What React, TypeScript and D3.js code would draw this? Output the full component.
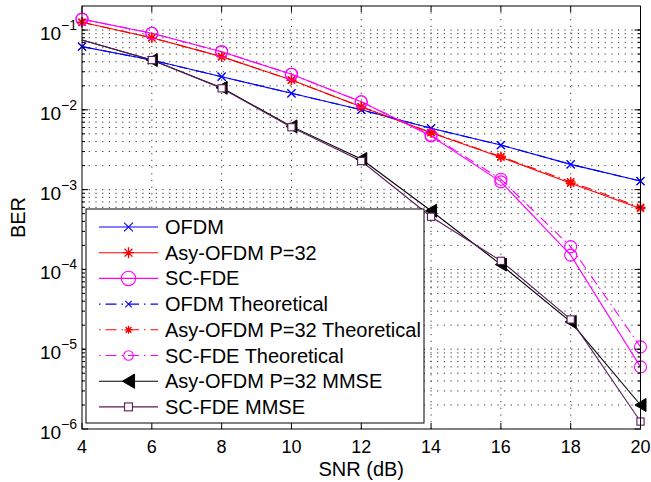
import * as d3 from 'd3';
import { useEffect, useRef } from 'react';

// SNR points (dB)
const snr = [4, 6, 8, 10, 12, 14, 16, 18, 20];

// BER
const ofdm = [0.062, 0.042, 0.026, 0.0161, 0.0100, 0.00586, 0.00362, 0.00207, 0.00128];
const asyOfdm = [0.125, 0.080, 0.0464, 0.0236, 0.0109, 0.00517, 0.00254, 0.0012, 0.00058];
const scFde = [0.137, 0.091, 0.0535, 0.0279, 0.0126, 0.0047, 0.00125, 0.000151, 0.000006];
const ofdmTheo = [0.062, 0.042, 0.026, 0.0161, 0.0100, 0.00586, 0.00362, 0.00207, 0.00128];
const asyOfdmTheo = [0.125, 0.080, 0.0464, 0.0236, 0.0109, 0.0052, 0.0026, 0.00125, 0.0006];
const scFdeTheo = [0.137, 0.091, 0.0535, 0.0279, 0.0126, 0.0048, 0.00135, 0.000193, 0.0000107];
const asyMmse = [0.075, 0.042, 0.0189, 0.0062, 0.00242, 0.000544, 0.000115, 0.000022, 0.000002];
const scFdeMmse = [0.075, 0.042, 0.0186, 0.00605, 0.00228, 0.000457, 0.000128, 0.0000236, 0.00000124];

const xTicks = [4, 6, 8, 10, 12, 14, 16, 18, 20];
const yTickExps = [-6, -5, -4, -3, -2, -1];

const FONT = "'Liberation Sans', Arial, Helvetica, sans-serif";

export default function App() {
  const svgRef = useRef(null);

  useEffect(() => {
    document.body.style.margin = '0';
    const svg = d3.select(svgRef.current);
    svg.selectAll('*').remove();

    const margin = { left: 82, right: 10.5, top: 6, bottom: 53 };
    const W = 651, H = 482;
    const x = d3.scaleLinear().domain([4, 20]).range([margin.left, W - margin.right]);
    const y = d3.scaleLog().domain([1e-6, 0.2]).range([H - margin.bottom, margin.top]);
    const [x0, x1] = x.range();
    const [y0, y1] = y.range();

    const series = [
      { name: 'OFDM', values: ofdm, color: '#0000ff', dash: null, marker: 'x' },
      { name: 'Asy-OFDM P=32', values: asyOfdm, color: '#ff0000', dash: null, marker: 'star' },
      { name: 'SC-FDE', values: scFde, color: '#ff00ff', dash: null, marker: 'circle' },
      { name: 'OFDM Theoretical', values: ofdmTheo, color: '#0000ff', dash: '10,4,1.5,4', marker: 'x' },
      { name: 'Asy-OFDM P=32 Theoretical', values: asyOfdmTheo, color: '#ff0000', dash: '10,4,1.5,4', marker: 'star' },
      { name: 'SC-FDE Theoretical', values: scFdeTheo, color: '#ff00ff', dash: '10,4,1.5,4', marker: 'circle' },
      { name: 'Asy-OFDM P=32 MMSE', values: asyMmse, color: '#000000', dash: null, marker: 'tri', skipFirst: true },
      { name: 'SC-FDE MMSE', values: scFdeMmse, color: '#5a1a5a', dash: null, marker: 'square', skipFirst: true },
    ];

    // grid
    const grid = svg.append('g').attr('stroke', '#333').attr('stroke-width', 1).attr('stroke-dasharray', '1.2,5.5');
    xTicks.slice(1, -1).forEach(t => {
      grid.append('line').attr('x1', x(t)).attr('x2', x(t)).attr('y1', y0).attr('y2', y1);
    });
    const minorVals = [];
    yTickExps.forEach(e => {
      for (let m = 1; m <= 9; m++) {
        const v = m * Math.pow(10, e);
        if (v > 1e-6 && v < 0.2) minorVals.push(v);
      }
    });
    minorVals.forEach(v => {
      grid.append('line').attr('x1', x0).attr('x2', x1).attr('y1', y(v)).attr('y2', y(v));
    });

    function drawMarker(g, type, cx, cy, color, s = 1) {
      if (type === 'x') {
        const r = 4 * s;
        g.append('path').attr('d', `M${cx - r},${cy - r}L${cx + r},${cy + r}M${cx - r},${cy + r}L${cx + r},${cy - r}`)
          .attr('stroke', color).attr('stroke-width', 1.1).attr('fill', 'none').attr('stroke-dasharray', null);
      } else if (type === 'star') {
        const r = 5 * s, d = 3.6 * s;
        g.append('path').attr('d', `M${cx - r},${cy}L${cx + r},${cy}M${cx},${cy - r}L${cx},${cy + r}M${cx - d},${cy - d}L${cx + d},${cy + d}M${cx - d},${cy + d}L${cx + d},${cy - d}`)
          .attr('stroke', color).attr('stroke-width', 1.3).attr('fill', 'none').attr('stroke-dasharray', null);
      } else if (type === 'circle') {
        g.append('circle').attr('cx', cx).attr('cy', cy).attr('r', 6 * s)
          .attr('stroke', color).attr('stroke-width', 1.1).attr('fill', 'none').attr('stroke-dasharray', null);
      } else if (type === 'tri') {
        const w = 5.5 * s, h = 6.5 * s;
        g.append('path').attr('d', `M${cx - w},${cy}L${cx + w},${cy - h}L${cx + w},${cy + h}Z`)
          .attr('fill', color).attr('stroke', color).attr('stroke-width', 1).attr('stroke-dasharray', null);
      } else if (type === 'square') {
        const h = 3.6 * s;
        g.append('rect').attr('x', cx - h).attr('y', cy - h).attr('width', 2 * h).attr('height', 2 * h)
          .attr('fill', '#fff').attr('stroke', color).attr('stroke-width', 1.1).attr('stroke-dasharray', null);
      }
    }

    const line = d3.line().x(d => x(d[0])).y(d => y(d[1]));
    const plot = svg.append('g');
    series.forEach(s => {
      const pts = snr.map((v, i) => [v, s.values[i]]);
      plot.append('path').datum(pts)
        .attr('d', line)
        .attr('fill', 'none')
        .attr('stroke', s.color)
        .attr('stroke-width', 1.1)
        .attr('stroke-dasharray', s.dash);
    });
    series.forEach(s => {
      const g = plot.append('g');
      snr.forEach((v, i) => {
        if (s.skipFirst && i === 0) return;
        drawMarker(g, s.marker, x(v), y(s.values[i]), s.color);
      });
    });

    // frame and ticks
    const ax = svg.append('g').attr('stroke', '#000').attr('stroke-width', 1).attr('fill', 'none');
    ax.append('rect').attr('x', x0).attr('y', y1).attr('width', x1 - x0).attr('height', y0 - y1);
    xTicks.forEach(t => {
      ax.append('line').attr('x1', x(t)).attr('x2', x(t)).attr('y1', y0).attr('y2', y0 - 6);
      ax.append('line').attr('x1', x(t)).attr('x2', x(t)).attr('y1', y1).attr('y2', y1 + 6);
    });
    yTickExps.forEach(e => {
      const v = Math.pow(10, e);
      ax.append('line').attr('x1', x0).attr('x2', x0 + 6).attr('y1', y(v)).attr('y2', y(v));
      ax.append('line').attr('x1', x1).attr('x2', x1 - 6).attr('y1', y(v)).attr('y2', y(v));
    });
    minorVals.forEach(v => {
      ax.append('line').attr('x1', x0).attr('x2', x0 + 3).attr('y1', y(v)).attr('y2', y(v));
      ax.append('line').attr('x1', x1).attr('x2', x1 - 3).attr('y1', y(v)).attr('y2', y(v));
    });

    // tick labels
    const labels = svg.append('g').attr('font-family', FONT).attr('fill', '#000');
    xTicks.forEach(t => {
      labels.append('text').attr('x', x(t)).attr('y', y0 + 24).attr('text-anchor', 'middle')
        .attr('font-size', 18).text(t);
    });
    yTickExps.forEach(e => {
      const t = labels.append('text').attr('x', 77).attr('y', y(Math.pow(10, e)) + 10)
        .attr('text-anchor', 'end').attr('font-size', 19);
      t.append('tspan').text('10');
      t.append('tspan').attr('dy', -10).attr('font-size', 14).text('\u2212' + Math.abs(e));
    });

    labels.append('text').attr('x', (x0 + x1) / 2).attr('y', 476).attr('text-anchor', 'middle')
      .attr('font-size', 20).text('SNR (dB)');
    labels.append('text').attr('transform', `translate(25,${(y0 + y1) / 2}) rotate(-90)`)
      .attr('text-anchor', 'middle').attr('font-size', 20).text('BER');

    // legend
    const lg = svg.append('g');
    lg.append('rect').attr('x', 86).attr('y', 209).attr('width', 338).attr('height', 214)
      .attr('fill', '#fff').attr('stroke', '#000').attr('stroke-width', 1);
    series.forEach((s, i) => {
      const ly = 227 + i * 25.7;
      lg.append('line').attr('x1', 99).attr('x2', 158).attr('y1', ly).attr('y2', ly)
        .attr('stroke', s.color).attr('stroke-width', 1.1).attr('stroke-dasharray', s.dash ? '1.5,5,11,5' : null);
      const sc = s.dash ? 0.8 : (s.marker === 'circle' ? 1.2 : 1.1);
      drawMarker(lg, s.marker, 128.5, ly, s.color, sc);
      lg.append('text').attr('x', 165).attr('y', ly + 7).attr('font-family', FONT)
        .attr('font-size', 20).attr('fill', '#000').text(s.name);
    });
  }, []);

  return (
    <svg ref={svgRef} width={651} height={482} style={{ display: 'block', background: '#fff' }} />
  );
}
